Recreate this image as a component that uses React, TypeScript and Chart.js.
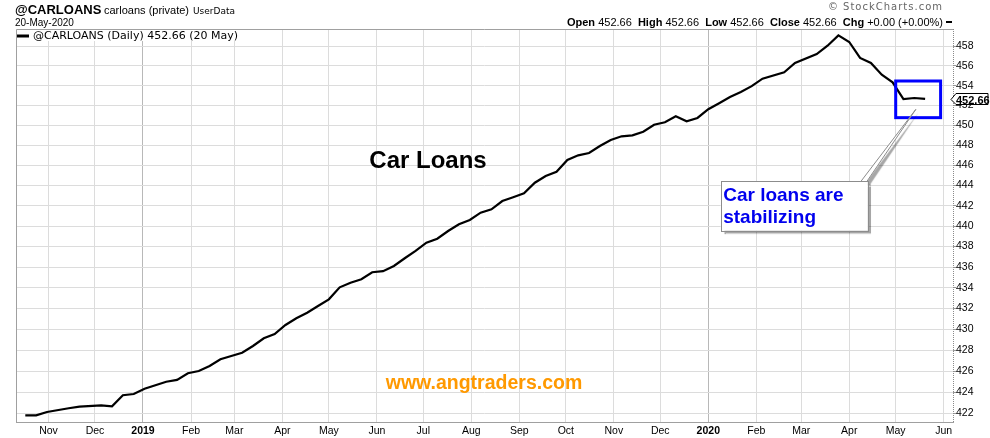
import React, { useEffect, useRef } from "react";
import { Chart, registerables } from "chart.js";

Chart.register(...registerables);

// ---------- data ----------
const dates = [
  "2018-10-17", "2018-10-24", "2018-10-31", "2018-11-14", "2018-11-21", "2018-12-05", "2018-12-12",
  "2018-12-19", "2018-12-26", "2019-01-02", "2019-01-16", "2019-01-23", "2019-01-30", "2019-02-06",
  "2019-02-13", "2019-02-20", "2019-02-27", "2019-03-06", "2019-03-13", "2019-03-20", "2019-03-27",
  "2019-04-03", "2019-04-10", "2019-04-17", "2019-04-24", "2019-05-01", "2019-05-08", "2019-05-15",
  "2019-05-22", "2019-05-29", "2019-06-05", "2019-06-12", "2019-06-19", "2019-06-26", "2019-07-03",
  "2019-07-10", "2019-07-17", "2019-07-24", "2019-07-31", "2019-08-07", "2019-08-14", "2019-08-21",
  "2019-08-28", "2019-09-04", "2019-09-11", "2019-09-18", "2019-09-25", "2019-10-02", "2019-10-09",
  "2019-10-16", "2019-10-23", "2019-10-30", "2019-11-06", "2019-11-13", "2019-11-20", "2019-11-27",
  "2019-12-04", "2019-12-11", "2019-12-18", "2019-12-25", "2020-01-01", "2020-01-08", "2020-01-15",
  "2020-01-22", "2020-01-29", "2020-02-05", "2020-02-19", "2020-02-26", "2020-03-11", "2020-03-18",
  "2020-03-25", "2020-04-01", "2020-04-08", "2020-04-15", "2020-04-22", "2020-04-29", "2020-05-06",
  "2020-05-13", "2020-05-20",
];
const values = [
  421.83, 421.83, 422.14, 422.49, 422.64, 422.77, 422.68,
  423.72, 423.84, 424.34, 425.0, 425.17, 425.8, 426.02,
  426.49, 427.13, 427.45, 427.76, 428.4, 429.13, 429.54,
  430.41, 431.05, 431.59, 432.23, 432.88, 434.04, 434.49,
  434.82, 435.5, 435.6, 436.11, 436.86, 437.57, 438.38,
  438.77, 439.52, 440.18, 440.61, 441.32, 441.65, 442.47,
  442.84, 443.23, 444.28, 444.95, 445.37, 446.54, 447.0,
  447.23, 447.93, 448.53, 448.9, 449.0, 449.36, 450.06,
  450.31, 450.91, 450.41, 450.74, 451.62, 452.22, 452.85,
  453.35, 453.95, 454.71, 455.35, 456.3, 457.21, 458.06,
  459.12, 458.44, 456.81, 456.3, 455.11, 454.34, 452.65,
  452.75, 452.66,
];

const tickDates = [
  "2018-11-01", "2018-12-01", "2019-01-01", "2019-02-01", "2019-03-01", "2019-04-01", "2019-05-01",
  "2019-06-01", "2019-07-01", "2019-08-01", "2019-09-01", "2019-10-01", "2019-11-01", "2019-12-01",
  "2020-01-01", "2020-02-01", "2020-03-01", "2020-04-01", "2020-05-01", "2020-06-01",
];
const tickLabels = [
  "Nov", "Dec", "2019", "Feb", "Mar", "Apr", "May", "Jun", "Jul", "Aug", "Sep", "Oct", "Nov", "Dec",
  "2020", "Feb", "Mar", "Apr", "May", "Jun",
];
const yTicks = [422, 424, 426, 428, 430, 432, 434, 436, 438, 440, 442, 444, 446, 448, 450, 452, 454, 456, 458];

const xRange = ["2018-10-11", "2020-06-07"];
const yRange = [421.2, 459.77];

// annotations (data coordinates)
const highlightDates = ["2020-05-01", "2020-05-30"];
const highlightValues = [454.47, 450.77];
const calloutDates = ["2020-01-09", "2020-04-13"];
const calloutValues = [444.45, 439.55];
const pointerDate = "2020-05-14";
const pointerValue = 451.61;

// ---------- helpers ----------
const BASE = Date.parse("2018-11-01T00:00:00Z");
const dayOf = (s: string) => (Date.parse(s + "T00:00:00Z") - BASE) / 86400000;

const ARIAL = '"Liberation Sans", Arial, sans-serif';
const VERDANA = '"DejaVu Sans", Verdana, sans-serif';

const yearTickDays = tickDates.filter((_, i) => /^\d{4}$/.test(tickLabels[i])).map(dayOf);

const lastValue = values[values.length - 1];

const decorPlugin = {
  id: "decor",
  beforeDraw(chart: any) {
    const { ctx, width, height } = chart;
    ctx.save();
    ctx.fillStyle = "#ffffff";
    ctx.fillRect(0, 0, width, height);
    ctx.restore();
  },
  afterDraw(chart: any) {
    const { ctx, chartArea } = chart;
    const xs = chart.scales.x;
    const ys = chart.scales.y;
    const L = chartArea.left, T = chartArea.top, R = chartArea.right, B = chartArea.bottom;
    ctx.save();

    // frame (left and top)
    ctx.strokeStyle = "#a0a0a0";
    ctx.lineWidth = 1;
    ctx.beginPath();
    ctx.moveTo(L + 0.5, B);
    ctx.lineTo(L + 0.5, T + 0.5);
    ctx.lineTo(R, T + 0.5);
    ctx.stroke();

    // dotted right axis line
    ctx.save();
    ctx.strokeStyle = "#8a8a8a";
    ctx.setLineDash([1, 1]);
    ctx.beginPath();
    ctx.moveTo(R + 0.5, T);
    ctx.lineTo(R + 0.5, B);
    ctx.stroke();
    ctx.restore();

    // legend inside plot
    const legendText = `@CARLOANS (Daily) ${lastValue.toFixed(2)} (20 May)`;
    ctx.font = `11px ${VERDANA}`;
    const lw = ctx.measureText(legendText).width;
    ctx.fillStyle = "#ffffff";
    ctx.fillRect(L + 1, T + 1, lw + 22, 11);
    ctx.strokeStyle = "#000";
    ctx.lineWidth = 3;
    ctx.beginPath();
    ctx.moveTo(L + 1, T + 7);
    ctx.lineTo(L + 13, T + 7);
    ctx.stroke();
    ctx.fillStyle = "#000";
    ctx.textBaseline = "alphabetic";
    ctx.textAlign = "left";
    ctx.fillText(legendText, L + 17, T + 10);

    // header left
    ctx.font = `bold 13px ${ARIAL}`;
    ctx.fillText("@CARLOANS", 15, 14);
    ctx.font = `11px ${ARIAL}`;
    ctx.fillText("carloans (private)", 104, 14);
    ctx.font = `9px ${VERDANA}`;
    ctx.fillText("UserData", 193, 14);
    ctx.font = `10px ${ARIAL}`;
    ctx.fillText("20-May-2020", 15, 26);

    // header right
    ctx.save();
    ctx.font = `10px ${VERDANA}`;
    (ctx as any).letterSpacing = "1px";
    ctx.fillStyle = "#666";
    ctx.textAlign = "right";
    ctx.fillText("\u00A9 StockCharts.com", 943, 10);
    ctx.restore();

    const v = lastValue.toFixed(2);
    const segs: [string, boolean][] = [
      ["Open ", true], [v + "  ", false],
      ["High ", true], [v + "  ", false],
      ["Low ", true], [v + "  ", false],
      ["Close ", true], [v + "  ", false],
      ["Chg ", true], ["+0.00 (+0.00%)", false],
    ];
    let total = 0;
    const widths = segs.map(([t, b]) => {
      ctx.font = `${b ? "bold " : ""}11px ${ARIAL}`;
      const w = ctx.measureText(t).width;
      total += w;
      return w;
    });
    let x = 943 - total;
    ctx.fillStyle = "#000";
    ctx.textAlign = "left";
    segs.forEach(([t, b], i) => {
      ctx.font = `${b ? "bold " : ""}11px ${ARIAL}`;
      ctx.fillText(t, x, 25.5);
      x += widths[i];
    });
    ctx.lineWidth = 2;
    ctx.beginPath();
    ctx.moveTo(946, 22);
    ctx.lineTo(952, 22);
    ctx.stroke();

    // big label
    ctx.font = `bold 24px ${ARIAL}`;
    ctx.textAlign = "center";
    ctx.fillStyle = "#000";
    ctx.fillText("Car Loans", 428, 168);

    ctx.font = `bold 19.5px ${ARIAL}`;
    ctx.fillStyle = "#ff9900";
    ctx.fillText("www.angtraders.com", 484, 389);

    // highlight box
    const hx1 = xs.getPixelForValue(dayOf(highlightDates[0]));
    const hx2 = xs.getPixelForValue(dayOf(highlightDates[1]));
    const hy1 = ys.getPixelForValue(highlightValues[0]);
    const hy2 = ys.getPixelForValue(highlightValues[1]);
    ctx.strokeStyle = "#0000ff";
    ctx.lineWidth = 3;
    ctx.strokeRect(hx1, hy1, hx2 - hx1, hy2 - hy1);

    // callout
    const cx1 = xs.getPixelForValue(dayOf(calloutDates[0]));
    const cx2 = xs.getPixelForValue(dayOf(calloutDates[1]));
    const cy1 = ys.getPixelForValue(calloutValues[0]);
    const cy2 = ys.getPixelForValue(calloutValues[1]);
    const px = xs.getPixelForValue(dayOf(pointerDate));
    const py = ys.getPixelForValue(pointerValue);

    ctx.save();
    ctx.shadowColor = "rgba(0,0,0,0.35)";
    ctx.shadowOffsetX = 3;
    ctx.shadowOffsetY = 3;
    ctx.shadowBlur = 1;
    ctx.fillStyle = "#ffffff";
    ctx.beginPath();
    ctx.moveTo(cx2 - 7, cy1 + 1);
    ctx.lineTo(px, py);
    ctx.lineTo(cx2 - 1, cy1 + 1);
    ctx.closePath();
    ctx.fill();
    ctx.fillRect(cx1, cy1, cx2 - cx1, cy2 - cy1);
    ctx.restore();

    ctx.strokeStyle = "#8c8c8c";
    ctx.lineWidth = 1;
    ctx.beginPath();
    ctx.moveTo(cx2 - 7, cy1 + 0.5);
    ctx.lineTo(px, py);
    ctx.lineTo(cx2 - 1, cy1 + 0.5);
    ctx.stroke();
    ctx.strokeRect(Math.round(cx1) + 0.5, Math.round(cy1) + 0.5, Math.round(cx2 - cx1), Math.round(cy2 - cy1));
    ctx.fillStyle = "#ffffff";
    ctx.fillRect(cx2 - 6.5, cy1 + 1, 5, 2);

    ctx.font = `bold 19px ${ARIAL}`;
    ctx.fillStyle = "#0000ee";
    ctx.textAlign = "left";
    ctx.fillText("Car loans are", cx1 + 2.5, cy1 + 19.5);
    ctx.fillText("stabilizing", cx1 + 2.5, cy1 + 42);

    // value tag on right axis
    const ty = Math.round(ys.getPixelForValue(lastValue)) + 0.5;
    ctx.beginPath();
    ctx.moveTo(R - 2, ty);
    ctx.lineTo(R + 3, ty - 6);
    ctx.lineTo(988, ty - 6);
    ctx.lineTo(988, ty + 5);
    ctx.lineTo(R + 3, ty + 5);
    ctx.closePath();
    ctx.fillStyle = "#ffffff";
    ctx.fill();
    ctx.strokeStyle = "#000";
    ctx.lineWidth = 1;
    ctx.stroke();
    ctx.font = `bold 11px ${ARIAL}`;
    ctx.fillStyle = "#000";
    ctx.fillText(lastValue.toFixed(2), R + 3, ty + 4);

    ctx.restore();
  },
};

export default function App() {
  const ref = useRef<HTMLCanvasElement>(null);

  useEffect(() => {
    document.body.style.margin = "0";
    const data = dates.map((d, i) => ({ x: dayOf(d), y: values[i] }));
    const chart = new Chart(ref.current as HTMLCanvasElement, {
      type: "line",
      data: {
        datasets: [
          {
            data,
            borderColor: "#000000",
            borderWidth: 2.2,
            pointRadius: 0,
            tension: 0,
            fill: false,
          },
        ],
      },
      options: {
        animation: false,
        responsive: false,
        devicePixelRatio: 1,
        events: [],
        layout: { padding: { left: 16, top: 29, right: 0, bottom: 0 } },
        plugins: { legend: { display: false }, tooltip: { enabled: false }, title: { display: false } },
        scales: {
          x: {
            type: "linear",
            bounds: "data",
            min: dayOf(xRange[0]),
            max: dayOf(xRange[1]),
            afterFit: (s: any) => {
              s.height = 16;
            },
            afterBuildTicks: (s: any) => {
              s.ticks = tickDates.map((d) => ({ value: dayOf(d) }));
            },
            border: { color: "#a0a0a0" },
            grid: {
              drawTicks: false,
              color: (c: any) => (c.tick && yearTickDays.includes(c.tick.value) ? "#b8b8b8" : "#dcdcdc"),
            },
            ticks: {
              autoSkip: false,
              maxRotation: 0,
              padding: 3,
              color: "#000",
              font: (c: any) => ({
                family: ARIAL,
                size: 10.5,
                weight: c.index !== undefined && /^\d{4}$/.test(tickLabels[c.index]) ? "bold" : "normal",
              }),
              callback: (_v: any, i: number) => tickLabels[i],
            },
          },
          y: {
            type: "logarithmic",
            position: "right",
            bounds: "data",
            min: yRange[0],
            max: yRange[1],
            afterFit: (s: any) => {
              s.width = 37;
            },
            afterBuildTicks: (s: any) => {
              s.ticks = yTicks.map((v) => ({ value: v }));
            },
            border: { display: false },
            grid: { color: "#dcdcdc", drawTicks: true, tickLength: 3, tickColor: "#999" },
            ticks: {
              padding: 0,
              color: "#000",
              font: { family: ARIAL, size: 10.5 },
              callback: (v: any) => String(v),
            },
          },
        },
      },
      plugins: [decorPlugin],
    } as any);
    return () => chart.destroy();
  }, []);

  return (
    <div style={{ width: 990, height: 438, position: "relative" }}>
      <canvas ref={ref} width={990} height={438} style={{ display: "block", width: 990, height: 438 }} />
    </div>
  );
}
